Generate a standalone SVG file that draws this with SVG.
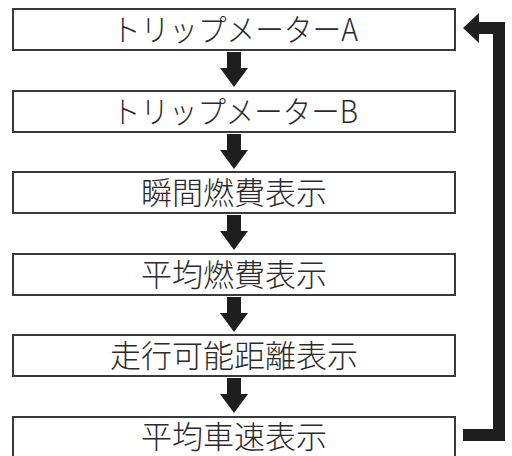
<svg xmlns="http://www.w3.org/2000/svg" width="512" height="456" viewBox="0 0 512 456">
<style>
.box{fill:#fff;stroke:#3a3a3a;stroke-width:2}
.lbl{font-family:"Noto Sans CJK JP","Noto Sans",sans-serif;font-size:31px;font-weight:300;fill:#2a2a2a;text-anchor:middle}
.arr{fill:#1e1e1e}
</style>
<defs>
<path id="down" d="M-7,0 H7 V16 H14 L0,35 L-14,16 H-7 Z"/>
</defs>
<rect width="512" height="456" fill="#fff"/>
<g id="n1"><rect class="box" x="13" y="9" width="442" height="41"/><text class="lbl" x="235" y="41" textLength="246" lengthAdjust="spacingAndGlyphs">トリップメーターA</text></g>
<g id="n2"><rect class="box" x="13" y="91" width="442" height="41"/><text class="lbl" x="235" y="123" textLength="246" lengthAdjust="spacingAndGlyphs">トリップメーターB</text></g>
<g id="n3"><rect class="box" x="13" y="172" width="442" height="41"/><text class="lbl" x="234" y="204">瞬間燃費表示</text></g>
<g id="n4"><rect class="box" x="13" y="254" width="442" height="41"/><text class="lbl" x="234" y="286">平均燃費表示</text></g>
<g id="n5"><rect class="box" x="13" y="335" width="442" height="41"/><text class="lbl" x="234" y="367">走行可能距離表示</text></g>
<g id="n6"><rect class="box" x="13" y="417" width="442" height="42"/><text class="lbl" x="234" y="448">平均車速表示</text></g>
<g id="connectors">
<use href="#down" class="arr" x="234" y="52"/>
<use href="#down" class="arr" x="234" y="134"/>
<use href="#down" class="arr" x="234" y="215"/>
<use href="#down" class="arr" x="234" y="297"/>
<use href="#down" class="arr" x="234" y="378"/>
<path class="arr" d="M463,429 H493 V34 H479 V43 L463,28 L479,13 V22 H505 V441 H463 Z"/>
</g>
</svg>
